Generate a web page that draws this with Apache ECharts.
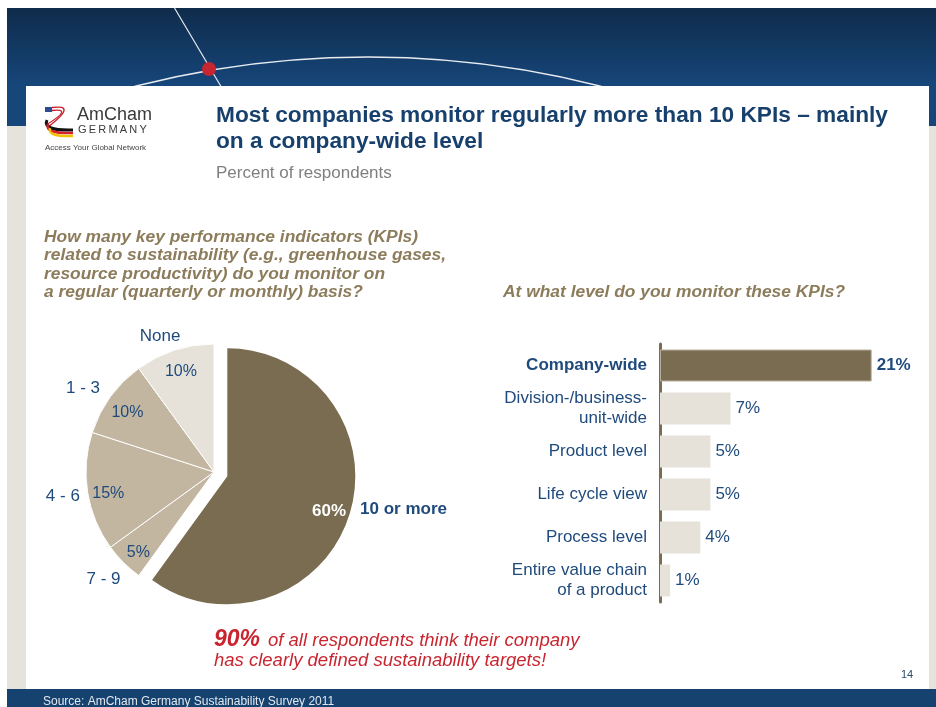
<!DOCTYPE html>
<html>
<head>
<meta charset="utf-8">
<script src="https://cdn.jsdelivr.net/npm/echarts@6/dist/echarts.min.js"></script>
<style>
html, body { margin: 0; padding: 0; background: #fff; }
#chart { width: 936px; height: 707px; }
</style>
</head>
<body>
<div id="chart"></div>
<script>
// how many KPIs are monitored (pie)
const kpiCounts = ['10 or more', '7 - 9', '4 - 6', '1 - 3', 'None'];
const kpiShares = [60, 5, 15, 10, 10];

// level of monitoring (bars)
const levels = ['Company-wide', 'Division-/business-\nunit-wide', 'Product level', 'Life cycle view', 'Process level', 'Entire value chain\nof a product'];
const levelShares = [21, 7, 5, 5, 4, 1];

const FONT = '"Liberation Sans", Arial, Helvetica, sans-serif';
const NAVY = '#1f4a7c';
const BROWN = '#7a6c50';
const TAN = '#c2b6a0';
const PALE = '#e6e2da';
const pieColors = [BROWN, TAN, TAN, TAN, PALE];

const chart = echarts.init(document.getElementById('chart'));

function txt (x, y, text, font, fill, z) {
  return {
    type: 'text', x: x, y: y, silent: true, z: z || 5,
    style: { text: text, font: font, fill: fill, textAlign: 'left', textVerticalAlign: 'middle', align: 'left', verticalAlign: 'middle' }
  };
}

const qFont = 'italic bold 17.4px ' + FONT;
const qColor = '#8c7c5b';
const red = '#c9252f';

let graphics = [
  // page background
  { type: 'rect', z: -20, silent: true, shape: { x: 0, y: 0, width: 936, height: 707 }, style: { fill: '#fff' } },
  { type: 'rect', z: -19, silent: true, shape: { x: 7, y: 8, width: 929, height: 118 },
    style: { fill: { type: 'linear', x: 0, y: 0, x2: 0, y2: 1, colorStops: [
      { offset: 0, color: '#0f2b4b' }, { offset: 0.66, color: '#16467a' }, { offset: 1, color: '#16457a' }] } } },
  { type: 'rect', z: -19, silent: true, shape: { x: 7, y: 126, width: 19, height: 563 }, style: { fill: '#e6e2dc' } },
  { type: 'rect', z: -19, silent: true, shape: { x: 929, y: 126, width: 7, height: 563 }, style: { fill: '#e6e2dc' } },
  // decoration in the header
  { type: 'arc', z: -18, silent: true, shape: { cx: 368, cy: 995, r: 938, startAngle: -1.9, endAngle: -1.24 },
    style: { stroke: 'rgba(255,255,255,0.9)', lineWidth: 1.5, fill: null } },
  { type: 'line', z: -18, silent: true, shape: { x1: 174.5, y1: 8, x2: 229, y2: 100 },
    style: { stroke: 'rgba(255,255,255,0.9)', lineWidth: 1.2 } },
  { type: 'circle', z: -17, silent: true, shape: { cx: 209, cy: 69, r: 7 }, style: { fill: '#c62630' } },
  // white content panel and footer
  { type: 'rect', z: -16, silent: true, shape: { x: 26, y: 86, width: 903, height: 603 }, style: { fill: '#fff' } },
  { type: 'rect', z: -16, silent: true, shape: { x: 7, y: 689, width: 929, height: 18 }, style: { fill: '#15426f' } },

  // logo mark
  { type: 'rect', z: 4, silent: true, shape: { x: 45, y: 107, width: 7, height: 5 }, style: { fill: '#2b4d8f' } },
  { type: 'bezierCurve', z: 4, silent: true, shape: { x1: 52, y1: 107.5, x2: 48, y2: 127, cpx1: 78, cpy1: 104 }, style: { stroke: '#c8202f', lineWidth: 1.3, fill: null } },
  { type: 'bezierCurve', z: 4, silent: true, shape: { x1: 52, y1: 110.5, x2: 46, y2: 125, cpx1: 74, cpy1: 108 }, style: { stroke: '#c8202f', lineWidth: 1.3, fill: null } },
  { type: 'bezierCurve', z: 4, silent: true, shape: { x1: 47, y1: 120, x2: 73, y2: 130, cpx1: 42, cpy1: 131 }, style: { stroke: '#111', lineWidth: 3, fill: null } },
  { type: 'bezierCurve', z: 4, silent: true, shape: { x1: 48, y1: 124, x2: 73, y2: 133, cpx1: 44, cpy1: 134 }, style: { stroke: '#d7202b', lineWidth: 2.5, fill: null } },
  { type: 'bezierCurve', z: 4, silent: true, shape: { x1: 50, y1: 128, x2: 73, y2: 136, cpx1: 47, cpy1: 137 }, style: { stroke: '#f2c200', lineWidth: 2.5, fill: null } },
  txt(77, 115, 'AmCham', '18px ' + FONT, '#3a3a3a'),
  txt(78, 129.5, 'G\u2009E\u2009R\u2009M\u2009A\u2009N\u2009Y', '11px ' + FONT, '#3a3a3a'),
  txt(45, 147.5, 'Access Your Global Network', '8px ' + FONT, '#444'),

  // headline
  txt(216, 115.5, 'Most companies monitor regularly more than 10 KPIs \u2013 mainly', 'bold 22.7px ' + FONT, '#17406d'),
  txt(216, 142, 'on a company-wide level', 'bold 22.7px ' + FONT, '#17406d'),
  txt(216, 173, 'Percent of respondents', '17px ' + FONT, '#7f7f7f'),

  // questions
  txt(44, 237, 'How many key performance indicators (KPIs)', qFont, qColor),
  txt(44, 255.5, 'related to sustainability (e.g., greenhouse gases,', qFont, qColor),
  txt(44, 274, 'resource productivity) do you monitor on', qFont, qColor),
  txt(44, 292.5, 'a regular (quarterly or monthly) basis?', qFont, qColor),
  txt(503, 292.5, 'At what level do you monitor these KPIs?', qFont, qColor),

  // call-out and footer text
  txt(214, 640, '90%', 'italic bold 23px ' + FONT, red),
  txt(268, 641, 'of all respondents think their company', 'italic 18.5px ' + FONT, red),
  txt(214, 661, 'has clearly defined sustainability targets!', 'italic 18.5px ' + FONT, red),
  txt(901, 675, '14', '11px ' + FONT, '#2d4a6b'),
  txt(43, 702, 'Source: AmCham Germany Sustainability Survey 2011', '12px ' + FONT, '#e3e8ef')
];

const pieCenter = [214, 472];

let option = {
  animation: false,
  textStyle: { fontFamily: FONT },
  graphic: { elements: graphics },
  grid: { left: 660, top: 344, width: 252, height: 258 },
  xAxis: { type: 'value', min: 0, max: 25, show: false },
  yAxis: {
    type: 'category',
    inverse: true,
    data: levels.map((v, i) => ({ value: v, textStyle: i === 0 ? { fontWeight: 'bold' } : {} })),
    axisLine: { show: true, lineStyle: { color: BROWN, width: 3 } },
    axisTick: { show: false },
    splitLine: { show: false },
    axisLabel: { interval: 0, color: NAVY, fontSize: 17, fontFamily: FONT, margin: 13, lineHeight: 20, align: 'right' }
  },
  series: [
    {
      type: 'pie',
      center: pieCenter,
      radius: 128,
      startAngle: 90,
      clockwise: true,
      selectedMode: 'single',
      selectedOffset: 14,
      silent: true,
      label: { show: false },
      labelLine: { show: false },
      // lift the outside name onto the line of the 60% label
      labelLayout: function (p) { return p.dataIndex === 0 ? { dy: -7 } : {}; },
      data: kpiCounts.map((name, i) => ({
        name: name,
        value: kpiShares[i],
        selected: i === 0,
        itemStyle: { color: pieColors[i], borderColor: '#fff', borderWidth: i === 0 ? 0 : 1 },
        label: i === 0 ? {
          show: true, position: 'outside', formatter: '{b}', color: NAVY, fontWeight: 'bold',
          fontSize: 17, distanceToLabelLine: 11
        } : { show: false },
        labelLine: { show: false, length: 0, length2: 0 }
      }))
    },
    {
      // percentage labels
      type: 'pie',
      center: pieCenter,
      radius: [80, 128],
      startAngle: 90,
      clockwise: true,
      selectedMode: 'single',
      selectedOffset: 14,
      silent: true,
      avoidLabelOverlap: false,
      itemStyle: { color: 'rgba(0,0,0,0)', borderWidth: 0 },
      label: { show: true, position: 'inside', formatter: '{c}%', color: NAVY, fontSize: 16 },
      labelLine: { show: false },
      labelLayout: function (p) { return { dy: [2, 5, 5, 3, 1][p.dataIndex] }; },
      data: kpiCounts.map((name, i) => ({
        name: name,
        value: kpiShares[i],
        selected: i === 0,
        label: i === 0 ? { color: '#fff', fontWeight: 'bold', fontSize: 17 } : {}
      }))
    },
    {
      // category names round the pie
      type: 'pie',
      center: pieCenter,
      radius: [134, 164],
      startAngle: 90,
      clockwise: true,
      silent: true,
      avoidLabelOverlap: false,
      itemStyle: { color: 'rgba(0,0,0,0)', borderWidth: 0 },
      label: { show: true, position: 'inside', formatter: '{b}', color: NAVY, fontSize: 17 },
      labelLine: { show: false },
      labelLayout: function (p) {
        return { dx: [0, -3, -1, -8, -7][p.dataIndex], dy: [0, 0, 1, 6, 9][p.dataIndex] };
      },
      data: kpiCounts.map((name, i) => ({
        name: name,
        value: kpiShares[i],
        label: i === 0 ? { show: false } : {}
      }))
    },
    {
      type: 'bar',
      barWidth: 32,
      silent: true,
      label: { show: true, position: 'right', distance: 5, formatter: '{c}%', color: NAVY, fontSize: 17 },
      data: levelShares.map((v, i) => ({
        value: v,
        itemStyle: i === 0 ? { color: BROWN, borderColor: '#b9af9c', borderWidth: 1 } : { color: PALE },
        label: i === 0 ? { fontWeight: 'bold' } : {}
      }))
    }
  ]
};

chart.setOption(option);
</script>
</body>
</html>
